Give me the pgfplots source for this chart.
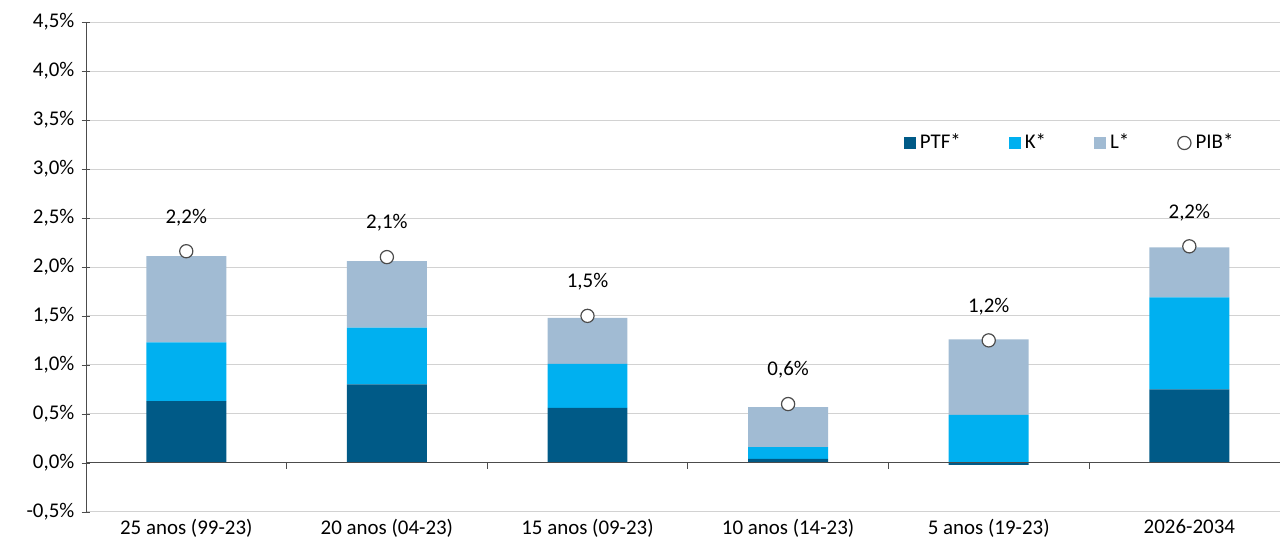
\documentclass[border=0pt]{standalone}
\usepackage{pgfplots}
\pgfplotsset{compat=1.18}
\usepackage{fontspec}
\setmainfont{Carlito}
\definecolor{ptf}{HTML}{005A87}
\definecolor{kc}{HTML}{00B0F0}
\definecolor{lc}{HTML}{A1BBD3}
\begin{document}
\fontsize{10.5}{12}\selectfont
\begin{tikzpicture}
\path (-43bp,-10bp) -- (0,256bp);
\begin{axis}[
  scale only axis, width=597bp, height=245bp,
  ybar stacked, bar width=40bp,
  xmin=-0.5, xmax=5.45, ymin=-0.5, ymax=4.5,
  ytick={-0.5,0,...,4.5},
  yticklabel={\pgfmathprintnumber[fixed,fixed zerofill,precision=1,use comma]{\tick}\%},
  /pgf/number format/assume math mode=true,
  ymajorgrids, grid style={gray!35},
  axis y line=left, y axis line style={-,black!70}, ytick style={black!70},
  y tick label style={font=\fontsize{10.5}{12}\selectfont},
  xtick={0,...,5}, xticklabels={25 anos (99-23),20 anos (04-23),15 anos (09-23),10 anos (14-23),5 anos (19-23),2026-2034},
  x tick label style={font=\fontsize{10.5}{12}\selectfont},
  x axis line style={draw=none}, major x tick style={draw=none},
  legend style={at={(0.97,0.753)},anchor=east,draw=none,fill=none,legend columns=4,font=\fontsize{10.5}{12}\selectfont,/tikz/every even column/.append style={column sep=22bp}},
  legend image code/.code={\draw[#1,draw=none] (0bp,-3bp) rectangle (6bp,3bp);},
  clip=false,
]
\addplot[fill=ptf,draw=none] coordinates {(0,0.63)(1,0.80)(2,0.56)(3,0.04)(4,-0.02)(5,0.75)};
\addplot[fill=kc,draw=none] coordinates {(0,0.60)(1,0.58)(2,0.45)(3,0.12)(4,0.49)(5,0.94)};
\addplot[fill=lc,draw=none] coordinates {(0,0.88)(1,0.68)(2,0.47)(3,0.41)(4,0.77)(5,0.51)};
\addlegendimage{legend image code/.code={\draw[fill=white,draw=black!70,line width=0.6bp] (3bp,0bp) circle (3.3bp);}}
\legend{PTF*,K*,L*,PIB*}
\end{axis}
\begin{axis}[
  scale only axis, width=597bp, height=245bp,
  xmin=-0.5, xmax=5.45, ymin=-0.5, ymax=4.5,
  hide axis, clip=false,
]
\draw[black!70] (axis cs:-0.5,0) -- (axis cs:5.45,0);
\draw[black!70] (axis cs:0.5,0) -- (axis cs:0.5,-0.06);
\draw[black!70] (axis cs:1.5,0) -- (axis cs:1.5,-0.06);
\draw[black!70] (axis cs:2.5,0) -- (axis cs:2.5,-0.06);
\draw[black!70] (axis cs:3.5,0) -- (axis cs:3.5,-0.06);
\draw[black!70] (axis cs:4.5,0) -- (axis cs:4.5,-0.06);
\addplot[only marks, mark=*, mark size=3.3bp, mark options={fill=white,draw=black!70,line width=0.6bp}] coordinates {(0,2.16)(1,2.10)(2,1.50)(3,0.60)(4,1.25)(5,2.21)};
\node[yshift=17bp] at (axis cs:0,2.16) {2,2\%};
\node[yshift=17bp] at (axis cs:1,2.10) {2,1\%};
\node[yshift=17bp] at (axis cs:2,1.50) {1,5\%};
\node[yshift=17bp] at (axis cs:3,0.60) {0,6\%};
\node[yshift=17bp] at (axis cs:4,1.25) {1,2\%};
\node[yshift=17bp] at (axis cs:5,2.21) {2,2\%};
\end{axis}
\end{tikzpicture}
\end{document}
